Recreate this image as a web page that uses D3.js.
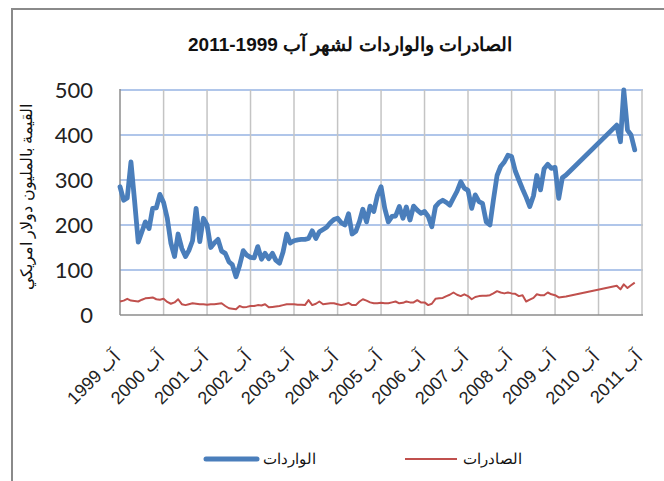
<!DOCTYPE html>
<html><head><meta charset="utf-8">
<script src="https://cdn.jsdelivr.net/npm/d3@7"></script>
<style>body{margin:0;background:#fff}svg{display:block}</style>
</head><body><svg id="c" width="664" height="481"></svg>
<script>
// Months with data (2010 data is missing in the source; the line joins across the gap)
const months = [
 "1999-08","1999-09","1999-10","1999-11","1999-12",
 "2000-01","2000-02","2000-03","2000-04","2000-05","2000-06","2000-07","2000-08","2000-09","2000-10","2000-11","2000-12",
 "2001-01","2001-02","2001-03","2001-04","2001-05","2001-06","2001-07","2001-08","2001-09","2001-10","2001-11","2001-12",
 "2002-01","2002-02","2002-03","2002-04","2002-05","2002-06","2002-07","2002-08","2002-09","2002-10","2002-11","2002-12",
 "2003-01","2003-02","2003-03","2003-04","2003-05","2003-06","2003-07","2003-08","2003-09","2003-10","2003-11","2003-12",
 "2004-01","2004-02","2004-03","2004-04","2004-05","2004-06","2004-07","2004-08","2004-09","2004-10","2004-11","2004-12",
 "2005-01","2005-02","2005-03","2005-04","2005-05","2005-06","2005-07","2005-08","2005-09","2005-10","2005-11","2005-12",
 "2006-01","2006-02","2006-03","2006-04","2006-05","2006-06","2006-07","2006-08","2006-09","2006-10","2006-11","2006-12",
 "2007-01","2007-02","2007-03","2007-04","2007-05","2007-06","2007-07","2007-08","2007-09","2007-10","2007-11","2007-12",
 "2008-01","2008-02","2008-03","2008-04","2008-05","2008-06","2008-07","2008-08","2008-09","2008-10","2008-11","2008-12",
 "2009-01","2009-02","2009-03","2009-04","2009-05","2009-06","2009-07","2009-08","2009-09","2009-10","2009-11",
 "2011-01","2011-02","2011-03","2011-04","2011-05","2011-06"
];
// الواردات (imports), million USD
const importValues = [
 285,255,260,340,255,
 162,185,207,192,237,238,268,250,215,160,130,180,
 148,130,143,165,237,163,215,200,150,160,168,142,
 137,118,112,85,110,143,133,128,127,152,124,137,
 125,137,122,115,140,180,160,165,167,168,168,170,
 187,170,185,190,195,205,212,215,205,200,225,180,
 186,208,235,207,242,230,265,285,237,207,219,220,
 241,215,240,211,242,233,226,230,219,196,241,250,
 255,250,244,260,275,296,282,277,237,267,252,248,
 207,200,255,310,330,340,355,352,320,300,280,262,
 241,265,310,278,325,335,326,328,259,305,311,
 422,385,500,411,400,367
];
// الصادرات (exports), million USD
const exportValues = [
 30,32,36,32,31,
 30,34,37,38,39,35,34,36,29,25,28,35,
 24,22,24,26,25,24,24,23,24,24,25,26,
 20,15,14,13,20,17,18,20,20,22,21,24,
 17,18,19,20,22,24,24,24,23,23,22,33,
 22,25,30,24,25,26,26,24,22,24,27,22,
 22,30,35,32,28,26,26,27,26,26,28,30,
 26,27,30,28,28,33,28,28,22,25,36,37,
 38,42,45,50,45,42,46,42,35,40,42,43,
 43,44,48,53,50,48,50,48,47,42,44,30,
 34,38,46,44,44,50,46,44,39,40,41,
 65,57,68,60,66,72
];
const tickYears = [1999,2000,2001,2002,2003,2004,2005,2006,2007,2008,2009,2010,2011];
const tickLabels = tickYears.map(y => "آب " + y);
const yTicks = [0,100,200,300,400,500];
const titleText = "الصادرات والواردات لشهر آب 1999-2011";
const yAxisTitle = "القيمة بالمليون دولار امريكي";
const seriesNames = ["الواردات","الصادرات"];

const parse = d3.timeParse("%Y-%m");
const dates = months.map(parse);
const svg = d3.select("#c");

// outer chart frame
svg.append("rect").attr("x",12).attr("y",9).attr("width",700).attr("height",520)
  .attr("fill","none").attr("stroke","#8a8a8a").attr("stroke-width",2);

const x = d3.scaleTime().domain([new Date(1999,7,1), new Date(2011,7,1)]).range([120, 642]);
const y = d3.scaleLinear().domain([0,500]).range([315, 90]);
const tickDates = tickYears.map(yr => new Date(yr,7,1));

// horizontal gridlines
svg.append("g").selectAll("line").data(yTicks.filter(v => v>0)).join("line")
  .attr("x1",120).attr("x2",643).attr("y1",d=>y(d)).attr("y2",d=>y(d))
  .attr("stroke","#b0c6ea").attr("stroke-width",2);
// vertical gridlines
svg.append("g").selectAll("line").data(tickDates.slice(1)).join("line")
  .attr("x1",d=>x(d)).attr("x2",d=>x(d)).attr("y1",y(500)).attr("y2",y(0))
  .attr("stroke","#c4c4c4").attr("stroke-width",1.5);
// axes lines
svg.append("line").attr("x1",x(tickDates[0])).attr("x2",x(tickDates[0])).attr("y1",y(500)-1).attr("y2",y(0))
  .attr("stroke","#8c8c8c").attr("stroke-width",1.5);
svg.append("line").attr("x1",120).attr("x2",643).attr("y1",y(0)).attr("y2",y(0))
  .attr("stroke","#8c8c8c").attr("stroke-width",1.5);

// y tick labels
svg.append("g").selectAll("text").data(yTicks).join("text")
  .attr("x",93).attr("y",d=>y(d)).attr("dy","0.36em").attr("text-anchor","end")
  .attr("font-family","Lato, 'Liberation Sans', sans-serif").attr("font-size",22).attr("fill","#222")
  .text(d=>d);

// x tick labels
svg.append("g").selectAll("text").data(tickDates).join("text")
  .attr("transform",(d)=>`translate(${x(d)+2},358) rotate(-45)`)
  .attr("direction","rtl").attr("text-anchor","start")
  .attr("font-family","'Liberation Sans', Arial, sans-serif").attr("font-size",18).attr("fill","#222")
  .text((d,i)=>tickLabels[i]);

// lines
const line = d3.line().x((d,i)=>x(dates[i])).y(d=>y(d));
svg.append("path").datum(exportValues).attr("d",line).attr("fill","none")
  .attr("stroke","#c0504d").attr("stroke-width",2).attr("stroke-linejoin","round");
svg.append("path").datum(importValues).attr("d",line).attr("fill","none")
  .attr("stroke","#4a7ebb").attr("stroke-width",4.8).attr("stroke-linejoin","round").attr("stroke-linecap","round");

// title
svg.append("text").attr("x",350).attr("y",51).attr("text-anchor","middle").attr("direction","rtl")
  .attr("font-family","'Liberation Sans', Arial, sans-serif").attr("font-weight","bold").attr("font-size",19)
  .attr("fill","#111").text(titleText);

// y axis title
svg.append("text").attr("transform","translate(32,197) rotate(-90)").attr("text-anchor","middle")
  .attr("font-family","'Liberation Sans', Arial, sans-serif").attr("font-size",16).attr("fill","#111")
  .text(yAxisTitle);

// legend
const lg = svg.append("g");
lg.append("line").attr("x1",206).attr("x2",257).attr("y1",459).attr("y2",459)
  .attr("stroke","#4a7ebb").attr("stroke-width",5).attr("stroke-linecap","round");
lg.append("text").attr("x",263).attr("y",464).attr("font-family","'Liberation Sans', Arial, sans-serif")
  .attr("font-size",15).attr("fill","#111").text(seriesNames[0]);
lg.append("line").attr("x1",405).attr("x2",457).attr("y1",459).attr("y2",459)
  .attr("stroke","#c0504d").attr("stroke-width",2);
lg.append("text").attr("x",463).attr("y",464).attr("font-family","'Liberation Sans', Arial, sans-serif")
  .attr("font-size",15).attr("fill","#111").text(seriesNames[1]);
</script></body></html>
